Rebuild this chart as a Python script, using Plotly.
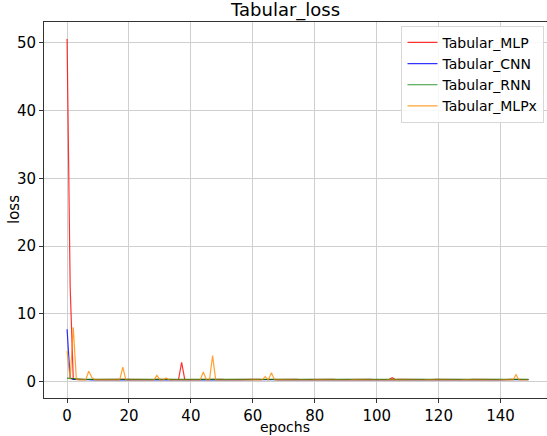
import plotly.graph_objects as go

epochs = list(range(150))

tabular_mlp = [
    50.6, 14.0, 0.35, 0.30, 0.29, 0.30, 0.28, 0.29, 0.30, 0.28,
    0.29, 0.28, 0.30, 0.29, 0.28, 0.29, 0.28, 0.30, 0.29, 0.28,
    0.29, 0.28, 0.29, 0.30, 0.28, 0.29, 0.28, 0.29, 0.28, 0.30,
    0.29, 0.28, 0.29, 0.28, 0.29, 0.30, 0.28, 2.80, 0.29, 0.28,
    0.29, 0.28, 0.30, 0.29, 0.28, 0.29, 0.28, 0.29, 0.30, 0.28,
    0.29, 0.28, 0.29, 0.28, 0.30, 0.29, 0.28, 0.29, 0.28, 0.29,
    0.30, 0.28, 0.29, 0.28, 0.29, 0.28, 0.30, 0.29, 0.28, 0.29,
    0.28, 0.29, 0.30, 0.28, 0.29, 0.28, 0.29, 0.28, 0.30, 0.29,
    0.28, 0.29, 0.28, 0.29, 0.30, 0.28, 0.29, 0.28, 0.29, 0.28,
    0.30, 0.29, 0.28, 0.29, 0.28, 0.29, 0.30, 0.28, 0.29, 0.28,
    0.29, 0.28, 0.30, 0.29, 0.28, 0.55, 0.28, 0.29, 0.28, 0.30,
    0.29, 0.28, 0.29, 0.28, 0.29, 0.30, 0.28, 0.29, 0.28, 0.29,
    0.28, 0.30, 0.29, 0.28, 0.29, 0.28, 0.29, 0.30, 0.28, 0.29,
    0.28, 0.29, 0.28, 0.30, 0.29, 0.28, 0.29, 0.28, 0.29, 0.30,
    0.28, 0.29, 0.28, 0.29, 0.28, 0.30, 0.29, 0.28, 0.29, 0.28,
]

tabular_cnn = [
    7.70, 0.50, 0.30, 0.27, 0.26, 0.25, 0.26, 0.25, 0.24, 0.25,
    0.26, 0.25, 0.24, 0.25, 0.26, 0.25, 0.24, 0.25, 0.26, 0.25,
    0.24, 0.25, 0.26, 0.25, 0.24, 0.25, 0.26, 0.25, 0.24, 0.25,
    0.26, 0.25, 0.24, 0.25, 0.26, 0.25, 0.24, 0.25, 0.26, 0.25,
    0.24, 0.25, 0.26, 0.25, 0.24, 0.25, 0.26, 0.25, 0.24, 0.25,
    0.26, 0.25, 0.24, 0.25, 0.26, 0.25, 0.24, 0.25, 0.26, 0.25,
    0.24, 0.25, 0.26, 0.25, 0.24, 0.25, 0.26, 0.25, 0.24, 0.25,
    0.26, 0.25, 0.24, 0.25, 0.26, 0.25, 0.24, 0.25, 0.26, 0.25,
    0.24, 0.25, 0.26, 0.25, 0.24, 0.25, 0.26, 0.25, 0.24, 0.25,
    0.26, 0.25, 0.24, 0.25, 0.26, 0.25, 0.24, 0.25, 0.26, 0.25,
    0.24, 0.25, 0.26, 0.25, 0.24, 0.25, 0.26, 0.25, 0.24, 0.25,
    0.26, 0.25, 0.24, 0.25, 0.26, 0.25, 0.24, 0.25, 0.26, 0.25,
    0.24, 0.25, 0.26, 0.25, 0.24, 0.25, 0.26, 0.25, 0.24, 0.25,
    0.26, 0.25, 0.24, 0.25, 0.26, 0.25, 0.24, 0.25, 0.26, 0.25,
    0.24, 0.25, 0.26, 0.25, 0.24, 0.25, 0.26, 0.25, 0.24, 0.25,
]

tabular_rnn = [
    0.50, 0.45, 0.40, 0.32, 0.30, 0.31, 0.30, 0.29, 0.30, 0.31,
    0.30, 0.29, 0.30, 0.31, 0.30, 0.29, 0.30, 0.31, 0.30, 0.29,
    0.30, 0.31, 0.30, 0.29, 0.30, 0.36, 0.30, 0.29, 0.30, 0.31,
    0.30, 0.29, 0.30, 0.31, 0.30, 0.29, 0.30, 0.31, 0.30, 0.29,
    0.30, 0.31, 0.30, 0.29, 0.30, 0.31, 0.30, 0.29, 0.30, 0.31,
    0.30, 0.29, 0.30, 0.31, 0.30, 0.29, 0.30, 0.31, 0.30, 0.29,
    0.30, 0.31, 0.30, 0.29, 0.30, 0.31, 0.30, 0.29, 0.30, 0.31,
    0.30, 0.29, 0.30, 0.31, 0.30, 0.29, 0.30, 0.31, 0.30, 0.29,
    0.30, 0.31, 0.30, 0.29, 0.30, 0.31, 0.30, 0.29, 0.30, 0.31,
    0.30, 0.29, 0.30, 0.31, 0.30, 0.29, 0.30, 0.31, 0.30, 0.29,
    0.30, 0.31, 0.30, 0.29, 0.30, 0.31, 0.30, 0.29, 0.30, 0.31,
    0.30, 0.29, 0.30, 0.31, 0.30, 0.29, 0.30, 0.31, 0.30, 0.29,
    0.30, 0.31, 0.30, 0.29, 0.30, 0.31, 0.30, 0.29, 0.30, 0.31,
    0.30, 0.29, 0.30, 0.31, 0.30, 0.29, 0.30, 0.31, 0.30, 0.29,
    0.30, 0.31, 0.30, 0.29, 0.30, 0.31, 0.30, 0.29, 0.30, 0.31,
]

tabular_mlpx = [
    4.50, 0.30, 8.00, 0.30, 0.22, 0.21, 0.22, 1.50, 0.60, 0.22,
    0.21, 0.22, 0.21, 0.22, 0.21, 0.22, 0.21, 0.22, 2.10, 0.22,
    0.21, 0.22, 0.21, 0.22, 0.21, 0.22, 0.21, 0.22, 0.21, 0.90,
    0.22, 0.21, 0.50, 0.21, 0.22, 0.21, 0.22, 0.21, 0.22, 0.21,
    0.22, 0.21, 0.22, 0.21, 1.40, 0.21, 0.22, 3.80, 0.22, 0.21,
    0.22, 0.21, 0.22, 0.21, 0.22, 0.21, 0.22, 0.21, 0.22, 0.21,
    0.22, 0.21, 0.22, 0.21, 0.70, 0.21, 1.30, 0.21, 0.22, 0.21,
    0.22, 0.21, 0.22, 0.21, 0.22, 0.21, 0.22, 0.21, 0.22, 0.21,
    0.22, 0.21, 0.22, 0.21, 0.22, 0.21, 0.22, 0.21, 0.22, 0.21,
    0.22, 0.21, 0.22, 0.21, 0.22, 0.21, 0.22, 0.21, 0.22, 0.21,
    0.22, 0.21, 0.22, 0.21, 0.22, 0.21, 0.22, 0.21, 0.22, 0.21,
    0.22, 0.21, 0.22, 0.21, 0.22, 0.21, 0.22, 0.21, 0.22, 0.21,
    0.22, 0.21, 0.22, 0.21, 0.22, 0.21, 0.22, 0.21, 0.22, 0.21,
    0.22, 0.21, 0.22, 0.21, 0.22, 0.21, 0.22, 0.21, 0.22, 0.21,
    0.22, 0.21, 0.22, 0.21, 0.22, 1.00, 0.22, 0.21, 0.22, 0.21,
]

series_names = ["Tabular_MLP", "Tabular_CNN", "Tabular_RNN", "Tabular_MLPx"]
series_values = [tabular_mlp, tabular_cnn, tabular_rnn, tabular_mlpx]
series_colors = ["red", "blue", "green", "darkorange"]

x_ticks = [0, 20, 40, 60, 80, 100, 120, 140]
y_ticks = [0, 10, 20, 30, 40, 50]

FONT = "DejaVu Sans"

fig = go.Figure()
for name, vals, col in zip(series_names, series_values, series_colors):
    fig.add_trace(go.Scatter(
        x=epochs, y=vals, mode="lines", name=name,
        line=dict(color=col, width=1.2), opacity=0.8,
    ))

axis_common = dict(
    showgrid=True, gridcolor="#cfcfcf", gridwidth=1,
    zeroline=False, showline=True, linecolor="#333333", linewidth=1,
    ticks="outside", ticklen=4, tickcolor="#333333",
    tickfont=dict(family=FONT, size=15, color="black"),
)

fig.update_layout(
    width=547, height=436,
    margin=dict(l=44, r=0, t=22, b=38),
    paper_bgcolor="white", plot_bgcolor="white",
    font=dict(family=FONT, color="black"),
    showlegend=True,
    legend=dict(
        x=0.995, y=0.99, xanchor="right", yanchor="top",
        bgcolor="rgba(255,255,255,0.85)", bordercolor="#d8d8d8", borderwidth=1,
        font=dict(family=FONT, size=14, color="black"),
        tracegroupgap=0, itemwidth=30,
    ),
    xaxis=dict(range=[-7.45, 155.0], tickvals=x_ticks, mirror=True, **axis_common),
    yaxis=dict(range=[-2.45, 53.1], tickvals=y_ticks, mirror=False, **axis_common),
    annotations=[
        dict(text="Tabular_loss", xref="paper", yref="paper",
             x=(285 - 44) / 503, y=1.0, yshift=12, xanchor="center", yanchor="middle",
             showarrow=False, font=dict(family=FONT, size=18, color="black")),
        dict(text="epochs", xref="paper", yref="paper",
             x=(285 - 44) / 503, y=0, yshift=-19, xanchor="center", yanchor="top",
             showarrow=False, font=dict(family=FONT, size=14, color="black")),
        dict(text="loss", xref="paper", yref="paper",
             x=0, xshift=-30, y=0.5, textangle=-90, xanchor="center", yanchor="middle",
             showarrow=False, font=dict(family=FONT, size=15, color="black")),
    ],
)

fig.write_html("out.html")
